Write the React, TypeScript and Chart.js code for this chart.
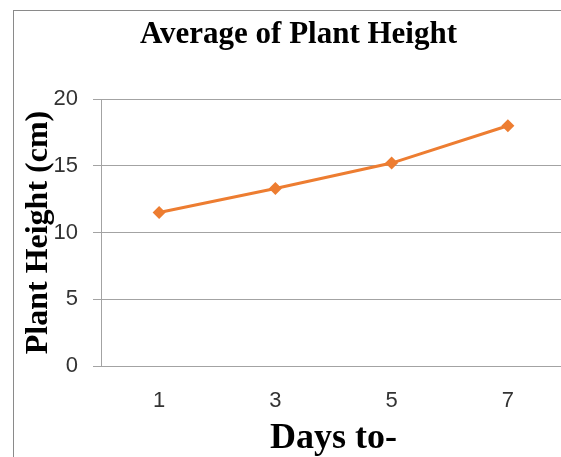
import React, { useEffect, useRef } from "react";
import { Chart, registerables } from "chart.js";

Chart.register(...registerables);

const chartTitle = "Average of Plant Height";
const xAxisTitle = "Days to-";
const yAxisTitle = "Plant Height (cm)";
const days = ["1", "3", "5", "7"];
const plantHeight = [11.5, 13.3, 15.2, 18.0];
const yMin = 0;
const yMax = 20;
const yStep = 5;

const ORANGE = "#ED7D31";
const GRID = "#a3a3a3";
const CANVAS_W = 569;
const CANVAS_H = 460;

export default function App() {
  const ref = useRef<HTMLCanvasElement | null>(null);

  useEffect(() => {
    if (!ref.current) return;
    const chart = new Chart(ref.current, {
      type: "line",
      data: {
        labels: days,
        datasets: [
          {
            label: "Average of Plant Height",
            data: plantHeight,
            borderColor: ORANGE,
            backgroundColor: ORANGE,
            borderWidth: 3,
            pointStyle: "rectRot",
            pointRadius: 6.5,
            pointHoverRadius: 6.5,
            pointBackgroundColor: ORANGE,
            pointBorderColor: ORANGE,
            pointBorderWidth: 0,
            tension: 0,
            fill: false,
          },
        ],
      },
      options: {
        responsive: false,
        animation: false,
        devicePixelRatio: 1,
        layout: { padding: { left: 17, right: 17, top: 0, bottom: 5 } },
        plugins: {
          legend: { display: false },
          tooltip: { enabled: false },
          title: {
            display: true,
            text: chartTitle,
            color: "#000",
            font: { family: "'Liberation Serif', 'Times New Roman', serif", size: 31, weight: "bold" },
            padding: { top: 5, bottom: 45.8 },
          },
        },
        scales: {
          x: {
            type: "category",
            offset: true,
            grid: { display: false, drawTicks: false },
            border: { display: true, color: GRID, width: 1 },
            ticks: {
              padding: 22,
              color: "#333",
              font: { family: "'Liberation Sans', Arial, sans-serif", size: 22 },
              maxRotation: 0,
            },
            title: {
              display: true,
              text: xAxisTitle,
              color: "#000",
              font: { family: "'Liberation Serif', 'Times New Roman', serif", size: 36, weight: "bold" },
              padding: { top: 0, bottom: 6 },
            },
            afterFit: (scale: any) => {
              scale.height = 100;
            },
          },
          y: {
            min: yMin,
            max: yMax,
            grid: { color: GRID, lineWidth: 1, drawTicks: true, tickLength: 8 },
            border: { display: true, color: GRID, width: 1 },
            ticks: {
              stepSize: yStep,
              padding: 15,
              color: "#333",
              font: { family: "'Liberation Sans', Arial, sans-serif", size: 22 },
            },
            title: {
              display: true,
              text: yAxisTitle,
              color: "#000",
              font: { family: "'Liberation Serif', 'Times New Roman', serif", size: 32, weight: "bold" },
              padding: { top: -11, bottom: 0 },
            },
            afterFit: (scale: any) => {
              scale.width = 70;
            },
          },
        },
      },
    });
    return () => chart.destroy();
  }, []);

  return (
    <div style={{ position: "fixed", left: 0, top: 0, right: 0, bottom: 0, overflow: "hidden", background: "#fff" }}>
      <div
        style={{
          position: "absolute",
          left: 13,
          top: 10,
          borderLeft: "1px solid #8a8a8a",
          borderTop: "1px solid #8a8a8a",
        }}
      >
        <canvas
          ref={ref}
          width={CANVAS_W}
          height={CANVAS_H}
          style={{ display: "block", width: CANVAS_W, height: CANVAS_H }}
        />
      </div>
    </div>
  );
}
